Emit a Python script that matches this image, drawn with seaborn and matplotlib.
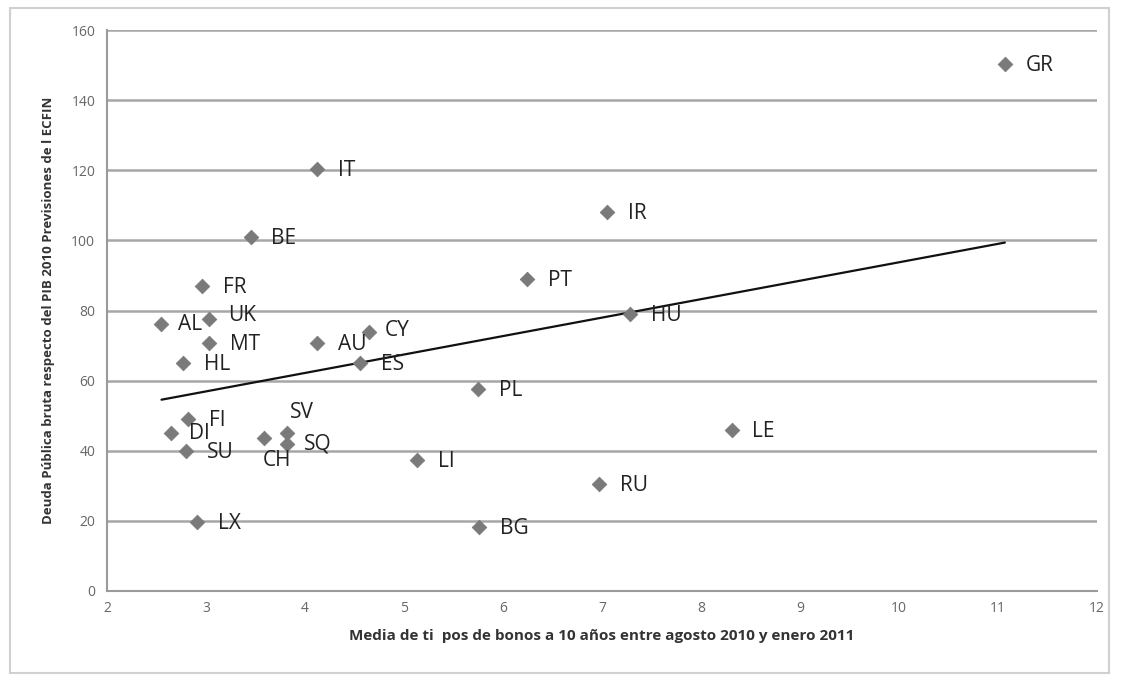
import numpy as np
import pandas as pd
import matplotlib
matplotlib.use("Agg")
import matplotlib.pyplot as plt
import seaborn as sns
from matplotlib.patches import Rectangle

# country codes, bond yields (x) and public debt % GDP (y)
paises = ["GR", "IT", "IR", "BE", "PT", "FR", "HU", "AL", "UK", "MT", "AU", "CY",
          "ES", "HL", "PL", "FI", "DI", "SU", "SV", "CH", "SQ", "LI", "LE", "RU",
          "LX", "BG"]
bonos = [11.07, 4.12, 7.05, 3.45, 6.24, 2.96, 7.28, 2.55, 3.03, 3.03, 4.12, 4.65,
         4.56, 2.77, 5.75, 2.82, 2.65, 2.80, 3.82, 3.59, 3.82, 5.13, 8.31, 6.97,
         2.91, 5.76]
deuda = [150.3, 120.3, 108.0, 100.9, 89.0, 86.9, 79.0, 76.3, 77.7, 70.6, 70.6, 74.0,
         64.9, 64.9, 57.7, 49.0, 45.0, 40.0, 45.0, 43.5, 42.0, 37.4, 46.0, 30.6,
         19.7, 18.3]

x_ticks = list(range(2, 13))
y_ticks = list(range(0, 161, 20))

df = pd.DataFrame({"pais": paises, "bonos": bonos, "deuda": deuda})

# label offsets in points (default: to the right of the marker)
offsets = {"SV": (2, 15), "CH": (-1, -16), "SQ": (12, 0), "AL": (12, -1),
           "DI": (13, 0), "UK": (14, 2), "CY": (11, 1)}

sns.set_style("white")
plt.rcParams['font.family'] = ['Open Sans', 'DejaVu Sans']

fig = plt.figure(figsize=(11.21, 6.84), dpi=100)
ax = fig.add_axes([0.0955, 0.136, 0.883, 0.820])

# outer chart frame like the excel chart area
fig.patches.append(Rectangle((0.009, 0.016), 0.980, 0.972, transform=fig.transFigure,
                             fill=False, edgecolor="#d0d0d0", linewidth=1.5))

sns.regplot(data=df, x="bonos", y="deuda", ax=ax, ci=None, scatter=False,
            line_kws={"color": "#111111", "linewidth": 1.6})
sns.scatterplot(data=df, x="bonos", y="deuda", ax=ax, marker="D", s=55,
                color="#7a7a7a", edgecolor="#7a7a7a", zorder=3)

for _, r in df.iterrows():
    dx, dy = offsets.get(r["pais"], (15, -1))
    ax.annotate(r["pais"], (r["bonos"], r["deuda"]), xytext=(dx, dy),
                textcoords="offset points", va="center", ha="left",
                fontsize=15, color="#222222", zorder=4)

ax.set_xlim(2, 12)
ax.set_ylim(0, 160)
ax.set_xticks(x_ticks)
ax.set_yticks(y_ticks)
ax.yaxis.grid(True, color="#a6a6a6", linewidth=1.8)
ax.set_axisbelow(True)
for s in ["top", "right"]:
    ax.spines[s].set_visible(False)
for s in ["left", "bottom"]:
    ax.spines[s].set_color("#9a9a9a")
    ax.spines[s].set_linewidth(1.5)
ax.tick_params(axis="both", labelsize=10, colors="#9a9a9a", labelcolor="#666666",
               length=5, width=1.2, direction="out")
ax.tick_params(axis="x", length=4)

ax.set_xlabel("Media de ti  pos de bonos a 10 años entre agosto 2010 y enero 2011",
              fontsize=11, fontweight="bold", color="#333333", labelpad=9)
ax.set_ylabel("Deuda Pública bruta respecto del PIB 2010 Previsiones de l ECFIN",
              fontsize=9.5, fontweight="bold", color="#333333", labelpad=12)

fig.savefig("out.png", dpi=100)
